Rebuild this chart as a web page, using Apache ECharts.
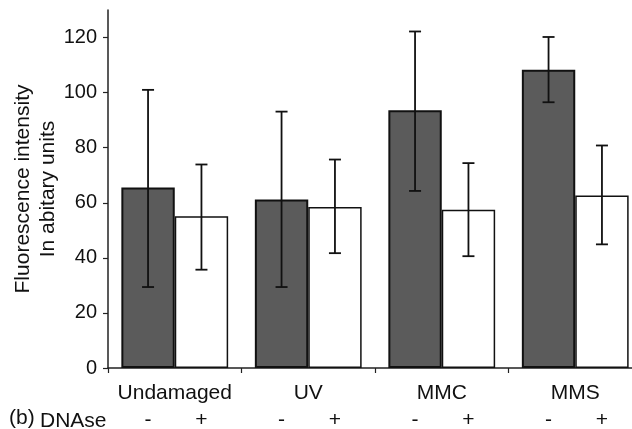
<!DOCTYPE html>
<html><head><meta charset="utf-8">
<script src="https://cdn.jsdelivr.net/npm/echarts@6/dist/echarts.min.js"></script>
<style>html,body{margin:0;padding:0;background:#fff}#c{width:632px;height:429px}</style>
</head><body><div id="c"></div>
<script>
var categories = ['Undamaged', 'UV', 'MMC', 'MMS'];
var dnaseMinus = [65.5, 61.2, 93.6, 108.3];
var dnasePlus = [55.1, 58.5, 57.5, 62.6];
var minusLow = [29.4, 29.4, 64.3, 96.5];
var minusHigh = [101.0, 93.1, 122.2, 120.2];
var plusLow = [35.7, 41.7, 40.6, 44.9];
var plusHigh = [73.9, 75.7, 74.4, 80.8];
var yTicks = [0, 20, 40, 60, 80, 100, 120];

var FONT = 'Liberation Sans, Arial, sans-serif';
var FS = 21;

function errData(lo, hi) {
  return categories.map(function (c, i) { return [i, lo[i], hi[i]]; });
}
function errRender(shift) {
  return function (params, api) {
    var band = api.size([1, 0])[0];
    var p1 = api.coord([api.value(0), api.value(1)]);
    var p2 = api.coord([api.value(0), api.value(2)]);
    var x = p1[0] + shift * band;
    var cap = 6;
    var st = { stroke: '#111', lineWidth: 1.8 };
    return {
      type: 'group',
      children: [
        { type: 'line', shape: { x1: x, y1: p1[1], x2: x, y2: p2[1] }, style: st },
        { type: 'line', shape: { x1: x - cap, y1: p1[1], x2: x + cap, y2: p1[1] }, style: st },
        { type: 'line', shape: { x1: x - cap, y1: p2[1], x2: x + cap, y2: p2[1] }, style: st }
      ]
    };
  };
}

var chart = echarts.init(document.getElementById('c'));
chart.setOption({
  animation: false,
  backgroundColor: '#fff',
  textStyle: { fontFamily: FONT },
  grid: { left: 108, right: -10, top: 10, bottom: 61, containLabel: false, outerBoundsMode: 'none' },
  xAxis: {
    type: 'category',
    data: categories,
    axisLine: { lineStyle: { color: '#222', width: 1.5 } },
    axisTick: { show: true, interval: 0, length: 5, lineStyle: { color: '#222', width: 1.2 } },
    axisLabel: { interval: 0, color: '#111', fontSize: FS, fontFamily: FONT, margin: 15 }
  },
  yAxis: {
    type: 'value',
    min: 0,
    max: 130,
    interval: 20,
    splitLine: { show: false },
    axisLine: { show: true, lineStyle: { color: '#222', width: 1.5 } },
    axisTick: { show: true, length: 5, customValues: yTicks, lineStyle: { color: '#222', width: 1.2 } },
    axisLabel: { color: '#111', fontSize: 20, fontFamily: FONT, margin: 11, customValues: yTicks },
    name: 'Fluorescence intensity\nIn abitary units',
    nameLocation: 'middle',
    nameGap: 47,
    nameMoveOverlap: false,
    nameTextStyle: { color: '#111', fontSize: FS, fontFamily: FONT, lineHeight: 25 }
  },
  graphic: [
    { type: 'text', left: 9, top: 408, style: { text: '(b)', font: FS + 'px ' + FONT, fill: '#111' } },
    { type: 'text', left: 40, top: 411, style: { text: 'DNAse', font: FS + 'px ' + FONT, fill: '#111' } }
  ],
  series: [
    {
      type: 'bar', data: dnaseMinus, barGap: '0%', barCategoryGap: '20%',
      itemStyle: { color: '#5b5b5b', borderColor: '#111', borderWidth: 2 },
      label: { show: true, position: 'bottom', distance: 42, formatter: '-', color: '#111', fontSize: FS, fontFamily: FONT }
    },
    {
      type: 'bar', data: dnasePlus,
      itemStyle: { color: '#ffffff', borderColor: '#111', borderWidth: 1.5 },
      label: { show: true, position: 'bottom', distance: 42, formatter: '+', color: '#111', fontSize: FS, fontFamily: FONT }
    },
    { type: 'custom', data: errData(minusLow, minusHigh), renderItem: errRender(-0.2), z: 5 },
    { type: 'custom', data: errData(plusLow, plusHigh), renderItem: errRender(0.2), z: 5 }
  ]
});
</script></body></html>
